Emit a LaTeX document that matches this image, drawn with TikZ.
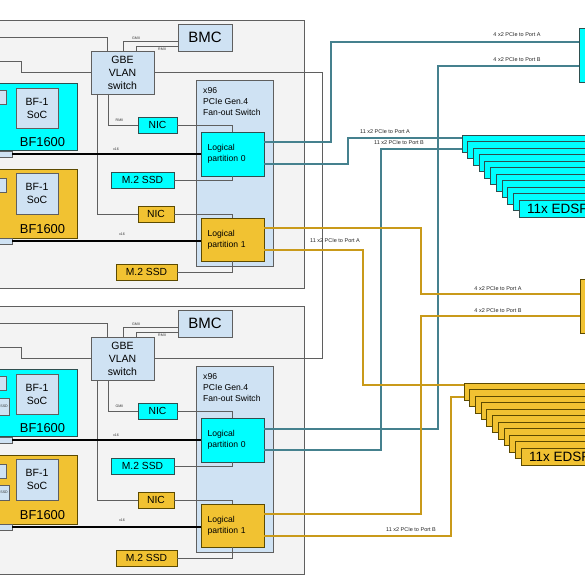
\documentclass[tikz,border=0pt]{standalone}
\usepackage{fontspec}
\setmainfont{Liberation Sans}
\usetikzlibrary{calc}
\definecolor{srvfill}{HTML}{F3F3F3}
\definecolor{lblue}{HTML}{CFE2F3}
\definecolor{cyanf}{HTML}{00FFFF}
\definecolor{goldf}{HTML}{F1C232}
\definecolor{tealln}{HTML}{45818E}
\definecolor{goldln}{HTML}{C99A1A}
\definecolor{edgeg}{HTML}{5F5F5F}
\definecolor{cyedge}{HTML}{2F4F4F}
\definecolor{gdedge}{HTML}{5C4A00}
\tikzset{
 bx/.style={anchor=north west, inner sep=0pt, outer sep=0pt, line width=0.8pt},
 srvbox/.style={bx, fill=srvfill, draw=edgeg},
 lbbox/.style={bx, fill=lblue, draw=edgeg},
 cybox/.style={bx, fill=cyanf, draw=cyedge},
 gdbox/.style={bx, fill=goldf, draw=gdedge},
 wire/.style={draw=edgeg, line width=0.7pt},
 tline/.style={draw=tealln, line width=2pt},
 gline/.style={draw=goldln, line width=2pt},
 busline/.style={draw=black, line width=2.6pt},
 tinylab/.style={font=\fontsize{3.6}{4}\selectfont, inner sep=0pt, text=black!80},
 plabel/.style={font=\fontsize{5.5}{6}\selectfont, inner sep=0pt, text=black!85},
}
\newcommand\myserver[2]{%
 \node[srvbox, minimum width=314pt, minimum height=268pt] (#1box) at (-10,20) {};
 % BF1600 cards
 \node[cybox, minimum width=87pt, minimum height=67pt] (#1bf0) at (-10,83) {};
 \node[lbbox, minimum width=42pt, minimum height=40pt, align=center, font=\fontsize{10.5}{13}\selectfont] (#1soc0) at (16,88) {BF-1\\SoC};
 \node[lbbox, minimum width=16pt, minimum height=14pt] (#1sm0) at (-10,90) {};
 \node[lbbox, minimum width=22pt, minimum height=6pt] (#1con0) at (-10,151) {};
 \node[font=\fontsize{12.9}{15}\selectfont, inner sep=0pt] (#1bfl0) at (42.5,142) {BF1600};
 \node[gdbox, minimum width=87pt, minimum height=69pt] (#1bf1) at (-10,169) {};
 \node[lbbox, minimum width=42pt, minimum height=41pt, align=center, font=\fontsize{10.5}{13}\selectfont] (#1soc1) at (16,173) {BF-1\\SoC};
 \node[lbbox, minimum width=16pt, minimum height=14pt] (#1sm1) at (-10,178) {};
 \node[lbbox, minimum width=22pt, minimum height=6pt] (#1con1) at (-10,238) {};
 \node[font=\fontsize{12.9}{15}\selectfont, inner sep=0pt] (#1bfl1) at (42.5,229) {BF1600};
 % BMC and switch
 \node[lbbox, minimum width=54pt, minimum height=27pt, font=\fontsize{15}{18}\selectfont] (#1bmc) at (178,24) {BMC};
 \node[lbbox, minimum width=63pt, minimum height=43pt, align=center, font=\fontsize{10.5}{13}\selectfont] (#1sw) at (91,51) {GBE\\VLAN\\switch};
 % PCIe switch
 \node[lbbox, minimum width=77pt, minimum height=186pt] (#1pcie) at (196,80) {};
 \node[anchor=north west, inner sep=0pt, align=left, font=\fontsize{8.6}{11}\selectfont] (#1pcil) at (203,87.5) {x96\\PCIe Gen.4\\Fan-out Switch};
 \node[cybox, minimum width=63pt, minimum height=44pt, align=left, text width=50pt, font=\fontsize{8.6}{11}\selectfont] (#1p0) at (201,132) {Logical\\partition 0};
 \node[gdbox, minimum width=63pt, minimum height=43pt, align=left, text width=50pt, font=\fontsize{8.6}{11}\selectfont] (#1p1) at (201,218) {Logical\\partition 1};
 % NIC and SSD
 \node[cybox, minimum width=39pt, minimum height=16pt, font=\fontsize{10.3}{12}\selectfont] (#1nic0) at (138,117) {NIC};
 \node[cybox, minimum width=63pt, minimum height=16pt, font=\fontsize{10.3}{12}\selectfont] (#1ssd0) at (111,172) {M.2 SSD};
 \node[gdbox, minimum width=36pt, minimum height=16pt, font=\fontsize{10.3}{12}\selectfont] (#1nic1) at (138,206) {NIC};
 \node[gdbox, minimum width=61pt, minimum height=16pt, font=\fontsize{10.3}{12}\selectfont] (#1ssd1) at (116,264) {M.2 SSD};
 % management wires
 \coordinate (#1m1) at (-10,37);
 \coordinate (#1m2) at (-10,61);
 \draw[wire] (#1m1) -| ([xshift=16pt]#1sw.north west);
 \draw[wire] (#1m2) -| ([xshift=-70pt]#1sw.west) -- (#1sw.west);
 \draw[wire] ([xshift=32pt]#1sw.north west) |- ([yshift=-4pt]#1bmc.west);
 \draw[wire] ([xshift=45pt]#1sw.north west) |- ([yshift=-8.5pt]#1bmc.west);
 \node[tinylab] (#1lg1) at (136,38) {GMII};
 \node[tinylab] (#1lg2) at (162,49.5) {RMII};
 \draw[wire] ([xshift=6pt]#1sw.south west) |- (#1nic1.west);
 \draw[wire] ([xshift=17pt]#1sw.south west) |- (#1nic0.west);
 \node[tinylab] (#1lg3) at (119.5,120) {#2};
 \draw[wire] (#1nic0.east) -| ([xshift=31pt]#1p0.north west);
 \draw[wire] (#1ssd0.east) -| ([xshift=31pt]#1p0.south west);
 \draw[wire] (#1nic1.east) -| ([xshift=31pt]#1p1.north west);
 \draw[wire] (#1ssd1.east) -| ([xshift=31pt]#1p1.south west);
 % x16 buses
 \draw[busline] (#1con0.east) -- (#1p0.west);
 \draw[busline] (#1con1.east) -- (#1con1.east -| #1p1.west);
 \node[tinylab] (#1x0) at (116,149) {x16};
 \node[tinylab] (#1x1) at (122,234) {x16};
}
\begin{document}
\begin{tikzpicture}[x=1pt, y=-1pt]
\useasboundingbox (0,0) rectangle (585,585);
\clip (0,0) rectangle (585,585);
\fill[white] (0,0) rectangle (585,585);
\begin{scope}
 \myserver{u}{RMII}
\end{scope}
\begin{scope}[shift={(0,286)}]
 \myserver{l}{GMII}
 \node[lbbox, minimum width=19pt, minimum height=17pt] (lsd0) at (-10,112) {};
 \node[tinylab, anchor=east] (lsdt0) at ([xshift=-1pt]lsd0.east) {SSD};
 \node[lbbox, minimum width=19pt, minimum height=15pt] (lsd1) at (-10,199) {};
 \node[tinylab, anchor=east] (lsdt1) at ([xshift=-1pt]lsd1.east) {SSD};
\end{scope}
% link between the two switches
\draw[wire] (usw.east) -- ++(168,0) |- (lsw.east);
% right side targets
\node[cybox, minimum width=20pt, minimum height=54pt] (pa) at (579,28) {};
\node[gdbox, minimum width=20pt, minimum height=54pt] (pb) at (580,279) {};
% teal links
\draw[tline] ([yshift=-10pt]up0.north east) -- ++(67,0) |- ([yshift=-14pt]pa.north west);
\draw[tline] ([yshift=-32pt]up0.north east) -- ++(84,0) |- (462,138);
\draw[tline] ([yshift=-11pt]lp0.north east) -- ++(174,0) |- ([yshift=-38pt]pa.north west);
\draw[tline] ([yshift=-32pt]lp0.north east) -- ++(117,0) |- (462,149);
% gold links
\draw[gline] ([yshift=-10pt]up1.north east) -- ++(157,0) |- ([yshift=-15pt]pb.north west);
\draw[gline] ([yshift=-32pt]up1.north east) -- ++(99,0) |- (464,385);
\draw[gline] ([yshift=-10pt]lp1.north east) -- ++(157,0) |- ([yshift=-37pt]pb.north west);
\draw[gline] ([yshift=-32pt]lp1.north east) -- ++(187,0) |- (464,397);
% EDSFF stacks
\foreach \i in {0,...,10} {
 \node[cybox, minimum width=160pt, minimum height=17pt] (ce\i) at ({462+5.7*\i},{135+6.5*\i}) {};
 \node[gdbox, minimum width=160pt, minimum height=17pt] (ge\i) at ({464+5.7*\i},{383+6.5*\i}) {};
}
\node[anchor=west, inner sep=0pt, font=\fontsize{13.5}{15}\selectfont] (cel) at ([xshift=8pt]ce10.west) {11x EDSFF};
\node[anchor=west, inner sep=0pt, font=\fontsize{13.5}{15}\selectfont] (gel) at ([xshift=8pt]ge10.west) {11x EDSFF};
% link labels
\node[plabel] (t1) at (517,35) {4 x2 PCIe to Port A};
\node[plabel] (t2) at (517,60) {4 x2 PCIe to Port B};
\node[plabel] (t3) at (385,132) {11 x2 PCIe to Port A};
\node[plabel] (t4) at (399,143) {11 x2 PCIe to Port B};
\node[plabel] (t5) at (335,241) {11 x2 PCIe to Port A};
\node[plabel] (t6) at (498,289) {4 x2 PCIe to Port A};
\node[plabel] (t7) at (498,311) {4 x2 PCIe to Port B};
\node[plabel] (t8) at (411,530) {11 x2 PCIe to Port B};
\end{tikzpicture}
\end{document}
